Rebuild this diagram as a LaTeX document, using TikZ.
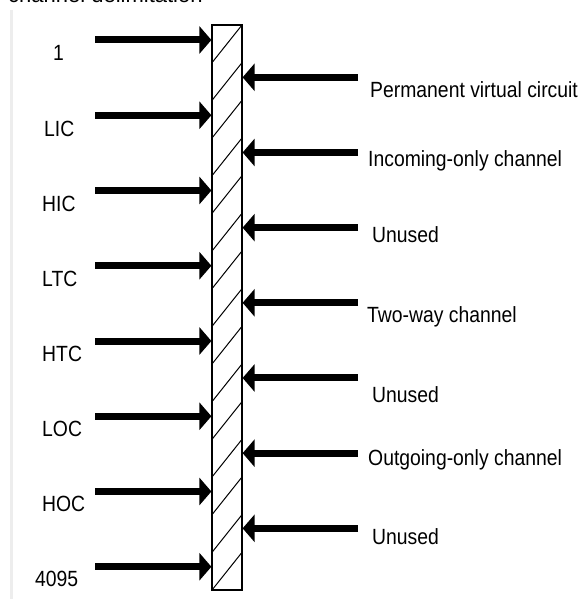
\documentclass[tikz,border=0pt]{standalone}
\usepackage{fontspec}
\setmainfont{Liberation Sans}[FakeStretch=0.88]
\newfontfamily\titlefont{Liberation Sans}
\usetikzlibrary{arrows.meta,calc}
\tikzset{
  arr/.style={line width=7pt,-{Triangle[length=12pt,width=27pt]}},
  lbl/.style={anchor=base west,inner sep=0pt,font=\fontsize{22}{26}\selectfont},
  hatch/.style={line width=1pt},
}
\begin{document}
\begin{tikzpicture}[x=1pt,y=-1pt]
\useasboundingbox (0,0) rectangle (582,599);
\clip (0,0) rectangle (582,599);
\fill[white] (0,0) rectangle (582,599);
\draw[line width=3pt,black!7] (11,10) -- (11,599);
\node[anchor=base west,inner sep=0pt,font=\titlefont\fontsize{22}{26}\selectfont] (title) at (8,3) {channel delimitation};
% bar
\node[draw,line width=1.2pt,minimum width=30pt,minimum height=565pt,inner sep=0pt] (bar) at (227,307.5) {};
\foreach \k in {1,...,15}{
  \draw[hatch] (212,{25+37.667*\k}) -- (242,{25+37.667*(\k-1)});
}
% left arrows and labels
\foreach \i/\t/\lx in {0/1/53,1/LIC/44,2/HIC/42,3/LTC/42,4/HTC/42,5/LOC/42,6/HOC/42,7/4095/35}{
  \coordinate (ls\i) at (95,{40+75.25*\i});
  \draw[arr] (ls\i) -- (ls\i -| bar.west);
  \node[lbl] (ll\i) at (\lx,{61+75.1*\i}) {\t};
}
% right arrows
\foreach \i in {0,...,6}{
  \coordinate (rs\i) at (358,{77.3+75.17*\i});
  \draw[arr] (rs\i) -- (rs\i -| bar.east);
}
\node[lbl] (r0) at (370,97.5) {Permanent virtual circuit};
\node[lbl] (r1) at (368,166) {Incoming-only channel};
\node[lbl] (r2) at (372,242) {Unused};
\node[lbl] (r3) at (367,322) {Two-way channel};
\node[lbl] (r4) at (372,402) {Unused};
\node[lbl] (r5) at (368,465) {Outgoing-only channel};
\node[lbl] (r6) at (372,544) {Unused};
\end{tikzpicture}
\end{document}
